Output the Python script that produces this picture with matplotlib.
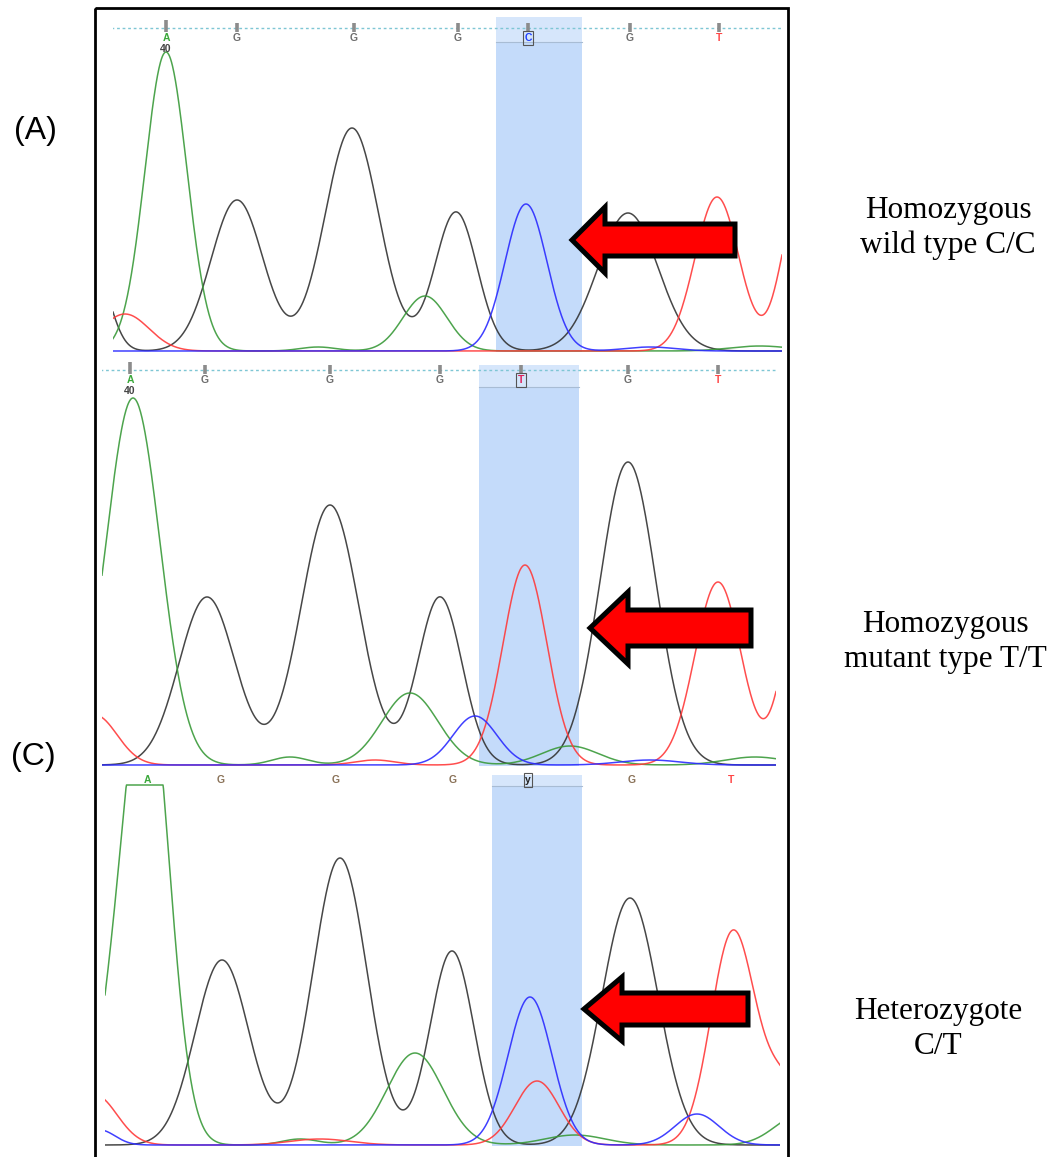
import numpy as np
import matplotlib.pyplot as plt
from matplotlib.patches import Rectangle, FancyArrow

W, H = 1051, 1157

# base calls printed over each trace
calls_a = ['A', 'G', 'G', 'G', 'C', 'G', 'T']
calls_b = ['A', 'G', 'G', 'G', 'T', 'G', 'T']
calls_c = ['A', 'G', 'G', 'G', 'y', 'G', 'T']
call_pos_a = [166, 237, 354, 458, 528, 630, 719]
call_pos_b = [130, 205, 330, 440, 521, 628, 718]
call_pos_c = [147, 221, 336, 453, 528, 632, 731]

# peaks: dye, scan position, height, width
dye_a = ['A', 'A', 'A', 'A', 'G', 'G', 'G', 'G', 'G', 'C', 'C', 'T', 'T', 'T']
pos_a = [166, 425, 318, 760, 95, 237, 352, 456, 628, 526, 650, 125, 717, 800]
ht_a = [299, 55, 4, 5, 80, 151, 223, 139, 138, 147, 4, 37, 154, 155]
wd_a = [21, 22, 18, 30, 15, 26, 27, 21, 30, 21, 25, 24, 22, 18]

dye_b = ['A', 'A', 'A', 'A', 'A', 'G', 'G', 'G', 'G', 'C', 'C', 'T', 'T', 'T', 'T', 'T']
pos_b = [133, 410, 290, 570, 755, 207, 330, 440, 628, 475, 650, 95, 525, 718, 800, 375]
ht_b = [367, 72, 8, 19, 8, 168, 260, 168, 303, 49, 5, 50, 200, 183, 160, 5]
wd_b = [27, 28, 18, 28, 30, 28, 29, 22, 28, 22, 30, 22, 22, 23, 18, 20]

dye_c = ['A', 'A', 'A', 'A', 'A', 'A', 'G', 'G', 'G', 'G', 'C', 'C', 'C', 'T', 'T', 'T', 'T', 'T']
pos_c = [147, 112, 415, 575, 300, 800, 222, 340, 452, 630, 530, 697, 100, 95, 537, 733, 785, 320]
ht_c = [470, 80, 92, 10, 6, 30, 185, 287, 194, 247, 148, 31, 15, 50, 64, 213, 60, 6]
wd_c = [22, 18, 28, 30, 18, 25, 27, 27, 22, 28, 22, 22, 15, 22, 22, 22, 20, 30]

genotypes = ['Homozygous\nwild type C/C', 'Homozygous\nmutant type T/T', 'Heterozygote\nC/T']
panel_tags = ['(A)', '(C)']

dye_color = {'A': '#3a9a3a', 'C': '#2b2bff', 'G': '#333333', 'T': '#ff3a3a'}
call_color = {'A': '#3aa83a', 'C': '#1f3fff', 'G': '#6e6e6e', 'T': '#ff4545', 'y': '#222222'}

fig = plt.figure(figsize=(W / 100, H / 100), dpi=100)


def px_axes(x0, x1, top, bottom, z=1):
    return fig.add_axes([x0 / W, 1 - bottom / H, (x1 - x0) / W, (bottom - top) / H], zorder=z)


def draw_panel(x0, x1, top, base, bottom, dyes, pos, ht, wd, calls, call_pos,
               hl, band_bot, dotted, cap=None, show40=True, box_call=4, callc=None):
    ax = px_axes(x0, x1, top, bottom)
    ax.set_xlim(x0, x1)
    ax.set_ylim(base - bottom, base - top)
    ax.axis('off')
    ax.patch.set_alpha(0)
    # highlighted base
    ax.add_patch(Rectangle((hl[0], base - bottom + 1), hl[1] - hl[0], bottom - 1 - hl[2],
                           fc='#c4dbfa', ec='none', zorder=0))
    ax.add_patch(Rectangle((hl[0], base - band_bot), hl[1] - hl[0], band_bot - hl[2],
                           fc='#d6e6fb', ec='none', zorder=0.5))
    ax.plot([hl[0], hl[1]], [base - band_bot] * 2, color='#a8bcd4', lw=0.8, zorder=0.6)
    x = np.arange(x0, x1 + 0.5, 0.5)
    pos = np.array(pos, float)
    ht = np.array(ht, float)
    wd = np.array(wd, float)
    dyes = np.array(dyes)
    for d in ['G', 'A', 'T', 'C']:
        m = dyes == d
        y = (ht[m, None] * np.exp(-(x[None, :] - pos[m, None]) ** 2 / (2 * wd[m, None] ** 2))).sum(0)
        if cap is not None:
            y = np.minimum(y, cap)
        ax.plot(x, y, color=dye_color[d], lw=1.1, alpha=0.9, zorder=2)
    if dotted is not None:
        ax.plot([x0 - 2, x1], [base - dotted] * 2, color='#7ec6d4', lw=1.0, ls=(0, (2, 2)), zorder=1)
        for i, cx in enumerate(call_pos):
            t = 8 if i == 0 else 5
            ax.plot([cx, cx], [base - dotted - 4, base - dotted + t], color='#8c8c8c', lw=2.6,
                    solid_capstyle='butt', zorder=1.5)
    ly = base - (dotted + 10 if dotted is not None else band_bot - 6)
    for i, (c, cx) in enumerate(zip(calls, call_pos)):
        col = call_color[c]
        if callc is not None and c == 'G':
            col = callc
        if i == box_call and c == 'T':
            col = '#e0205a'
        kw = {}
        if i == box_call:
            kw['bbox'] = dict(boxstyle='square,pad=0.15', fc='none', ec='#555555', lw=0.8)
        ax.text(cx, ly, c, color=col, fontsize=7.5, fontweight='bold', ha='center', va='center',
                family='Liberation Sans', zorder=3, **kw)
    if show40:
        ax.text(call_pos[0], ly - 11, '40', color='#444444', fontsize=7.5, fontweight='bold',
                ha='center', va='center', family='Liberation Sans', zorder=3)
    return ax


draw_panel(113, 782, 10, 351, 353, dye_a, pos_a, ht_a, wd_a, calls_a, call_pos_a,
           (496, 582, 17), 42, 28)
draw_panel(102, 776, 358, 765, 767, dye_b, pos_b, ht_b, wd_b, calls_b, call_pos_b,
           (479, 579, 365), 387, 370)
draw_panel(105, 780, 770, 1145, 1147, dye_c, pos_c, ht_c, wd_c, calls_c, call_pos_c,
           (492, 582, 775), 786, None, cap=360, show40=False, callc='#8a7258')

# overlay for frame, arrows and text
ov = px_axes(0, W, 0, H, z=5)
ov.set_xlim(0, W)
ov.set_ylim(H, 0)
ov.axis('off')
ov.patch.set_alpha(0)
ov.add_patch(Rectangle((95, 8), 693, 1180, fc='none', ec='black', lw=2.0, clip_on=False))

for tip, tail, yc, sw, hw, hl in [(572, 735, 240, 32, 66, 33),
                                  (590, 751, 628, 36, 72, 38),
                                  (584, 748, 1009, 32, 64, 38)]:
    ov.add_patch(FancyArrow(tail, yc, tip - tail, 0, width=sw, head_width=hw, head_length=hl,
                            length_includes_head=True, fc='#ff0000', ec='black', lw=3.6,
                            joinstyle='miter'))

for txt, (cx, cy) in zip(genotypes, [(948, 228), (945, 642), (938, 1029)]):
    ov.text(cx, cy, txt, ha='center', va='center', fontsize=22.5, family='Liberation Serif',
            linespacing=1.25)

for txt, (cx, cy) in zip(panel_tags, [(35, 131), (33, 757)]):
    ov.text(cx, cy, txt, ha='center', va='center', fontsize=23, family='Liberation Sans')

fig.savefig('out.png', dpi=100)
